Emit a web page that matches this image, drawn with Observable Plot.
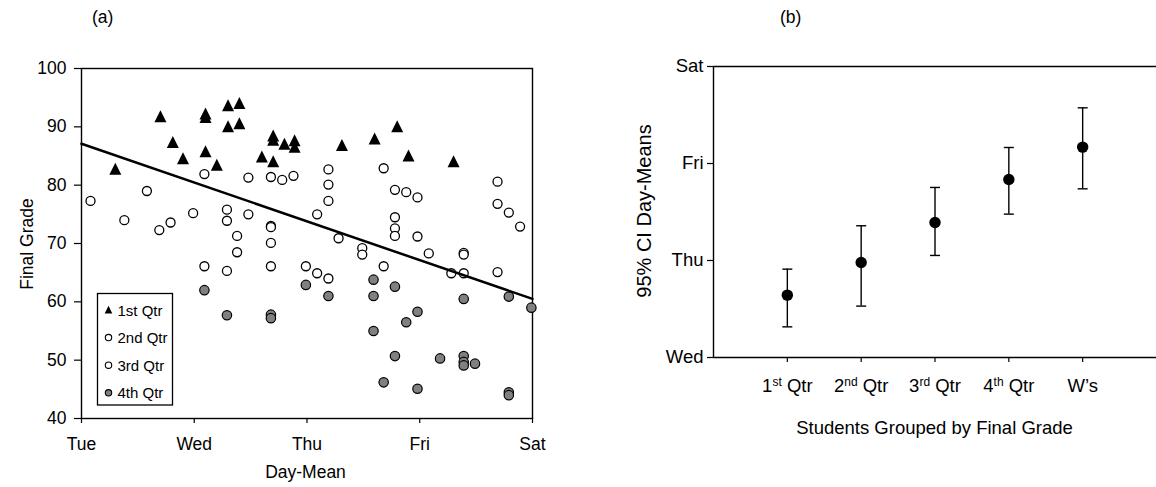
<!DOCTYPE html>
<html><head><meta charset="utf-8">
<script src="https://cdn.jsdelivr.net/npm/d3@7"></script>
<script src="https://cdn.jsdelivr.net/npm/@observablehq/plot@0.6"></script>
<style>
body{margin:0;background:#fff;}
#wrap{position:relative;width:1156px;height:487px;overflow:hidden;font-family:"Liberation Sans",Arial,sans-serif;color:#000;background:#fff;}
#wrap > svg{position:absolute;top:0;}
</style></head><body><div id="wrap"></div>
<script>
// ---------- Panel (a) data: day index (Sun=0 ... Tue=2 ... Sat=6) vs final grade ----------
const dayTicks = [2, 3, 4, 5, 6];
const dayNames = ["Tue", "Wed", "Thu", "Fri", "Sat"];
const gradeTicks = [40, 50, 60, 70, 80, 90, 100];

const q1Day   = [2.30, 2.70, 2.81, 2.90, 3.10, 3.10, 3.10, 3.20, 3.30, 3.30, 3.40, 3.40, 3.60, 3.70, 3.70, 3.70, 3.80, 3.89, 3.89, 4.31, 4.60, 4.80, 4.90, 5.30];
const q1Grade = [82.7, 91.7, 87.3, 84.5, 92.2, 91.6, 85.7, 83.4, 93.6, 90.0, 94.0, 90.5, 84.8, 88.4, 87.7, 84.0, 87.0, 87.6, 86.5, 86.8, 87.9, 90.0, 85.0, 84.0];

const q2Day   = [2.08, 2.38, 2.58, 2.69, 2.79, 2.99, 3.09, 3.29, 3.29, 3.38, 3.48, 3.48, 3.68, 3.68, 3.68, 3.78, 3.88, 4.19, 4.19, 4.19, 4.09, 4.68, 4.78, 4.88, 4.98, 4.78, 4.78, 4.78, 4.98, 5.69, 5.69, 5.79, 5.89];
const q2Grade = [77.3, 74.0, 79.0, 72.3, 73.6, 75.2, 81.9, 75.8, 73.9, 71.3, 81.3, 75.0, 81.4, 73.0, 72.8, 80.9, 81.6, 82.7, 80.1, 77.3, 75.0, 82.9, 79.2, 78.8, 77.9, 74.5, 72.6, 71.3, 71.2, 80.6, 76.8, 75.3, 72.9];

const q3Day   = [3.38, 3.09, 3.29, 3.68, 3.68, 4.28, 3.99, 4.09, 4.19, 4.49, 4.49, 4.68, 5.08, 5.39, 5.39, 5.28, 5.39, 5.69];
const q3Grade = [68.5, 66.1, 65.3, 70.1, 66.1, 70.9, 66.1, 64.9, 64.0, 69.2, 68.1, 66.1, 68.3, 68.4, 68.1, 64.9, 64.9, 65.1];

const q4Day   = [3.09, 3.29, 3.68, 3.68, 3.99, 4.19, 4.59, 4.59, 4.78, 4.59, 4.98, 4.88, 4.78, 4.68, 4.98, 5.18, 5.39, 5.39, 5.39, 5.49, 5.39, 5.79, 5.79, 5.79, 5.99];
const q4Grade = [62.0, 57.7, 57.8, 57.2, 62.9, 61.0, 63.8, 61.0, 62.6, 55.0, 58.3, 56.5, 50.7, 46.2, 45.1, 50.3, 50.7, 49.7, 49.1, 49.4, 60.5, 60.9, 44.5, 44.0, 59.0];

// regression line end points
const fitDay   = [2, 6];
const fitGrade = [87.1, 60.5];

// ---------- Panel (b) data: 95% CI of day-means per group ----------
const groups    = ["1st Qtr", "2nd Qtr", "3rd Qtr", "4th Qtr", "W\u2019s"];
const groupMean = [3.643, 3.979, 4.392, 4.835, 5.169];
const groupLow  = [3.316, 3.530, 4.052, 4.478, 4.739];
const groupHigh = [3.911, 4.358, 4.753, 5.165, 5.574];
const ciTicks   = [3, 4, 5, 6];
const ciNames   = ["Wed", "Thu", "Fri", "Sat"];

const FONT = "'Liberation Sans', Arial, sans-serif";
const rows = (xs, ys) => xs.map((x, i) => ({day: x, grade: ys[i]}));

// triangle marker (slightly taller than equilateral, as in the reference)
const tri = (w, h) => ({draw(ctx) { ctx.moveTo(0, -h * 0.55); ctx.lineTo(w / 2, h * 0.45); ctx.lineTo(-w / 2, h * 0.45); ctx.closePath(); }});

const left = Plot.plot({
  width: 560, height: 487,
  marginLeft: 81, marginRight: 28, marginTop: 68, marginBottom: 69,
  style: {fontFamily: FONT, fontSize: "17.5px", color: "#000", background: "transparent", overflow: "visible"},
  x: {domain: [2, 6]},
  y: {domain: [40, 100]},
  marks: [
    Plot.frame({stroke: "#000", strokeWidth: 1.4}),
    Plot.axisX({ticks: dayTicks, tickFormat: d => dayNames[dayTicks.indexOf(d)], tickSize: 5, tickPadding: 14, label: null, strokeWidth: 1.2}),
    Plot.axisY({ticks: gradeTicks, tickSize: 7, tickPadding: 8, label: null, strokeWidth: 1.2}),
    Plot.dot(rows(q3Day, q3Grade), {x: "day", y: "grade", r: 4.5, fill: "#fff", stroke: "#000", strokeWidth: 1.3}),
    Plot.dot(rows(q2Day, q2Grade), {x: "day", y: "grade", r: 4.5, fill: "#fff", stroke: "#000", strokeWidth: 1.3}),
    Plot.dot(rows(q4Day, q4Grade), {x: "day", y: "grade", r: 4.7, fill: "#808080", stroke: "#000", strokeWidth: 1.2}),
    Plot.dot(rows(q1Day, q1Grade), {x: "day", y: "grade", symbol: tri(12, 12), fill: "#000", stroke: "none"}),
    Plot.line(rows(fitDay, fitGrade), {x: "day", y: "grade", stroke: "#000", strokeWidth: 2.5})
  ]
});

const cap = {draw(ctx) { ctx.moveTo(-5, 0); ctx.lineTo(5, 0); }};
const ci = groups.map((g, i) => ({pos: i + 1, name: g, mean: groupMean[i], low: groupLow[i], high: groupHigh[i]}));

const right = Plot.plot({
  width: 556, height: 487,
  marginLeft: 113, marginRight: 0, marginTop: 66, marginBottom: 130,
  style: {fontFamily: FONT, fontSize: "18.5px", color: "#000", background: "transparent", overflow: "visible"},
  x: {domain: [0, 6]},
  y: {domain: [3, 6]},
  marks: [
    Plot.ruleY([6], {stroke: "#000", strokeWidth: 1.4}),
    Plot.ruleY([3], {stroke: "#000", strokeWidth: 1.4}),
    Plot.ruleX([0], {stroke: "#000", strokeWidth: 1.4}),
    Plot.axisX({ticks: groups.map((g, i) => i + 1), tickFormat: d => groups[d - 1], tickSize: 5, tickPadding: 16, label: null, strokeWidth: 1.2}),
    Plot.axisY({ticks: ciTicks, tickFormat: d => ciNames[ciTicks.indexOf(d)], tickSize: 6, tickPadding: 4, label: null, strokeWidth: 1.2}),
    Plot.ruleX(ci, {x: "pos", y1: "low", y2: "high", stroke: "#000", strokeWidth: 1.4}),
    Plot.dot(ci, {x: "pos", y: "low", symbol: cap, fill: "none", stroke: "#000", strokeWidth: 1.4}),
    Plot.dot(ci, {x: "pos", y: "high", symbol: cap, fill: "none", stroke: "#000", strokeWidth: 1.4}),
    Plot.dot(ci, {x: "pos", y: "mean", r: 5.7, fill: "#000", stroke: "none"})
  ]
});
right.style.left = "600px";

// superscript ordinal suffixes on the group tick labels
d3.select(right).selectAll('g[aria-label="x-axis tick label"] text').each(function () {
  const t = d3.select(this);
  const m = t.text().match(/^(\d)(st|nd|rd|th) (.*)$/);
  if (!m) return;
  t.text(null);
  t.append("tspan").text(m[1]);
  t.append("tspan").attr("font-size", "12px").attr("dy", "-6").text(m[2]);
  t.append("tspan").attr("dy", "6").text("\u00a0" + m[3]);
});

const wrap = document.getElementById("wrap");
wrap.appendChild(left);
left.style.left = "0px";
wrap.appendChild(right);

// overlay: panel letters, axis titles, legend
const ov = d3.create("svg").attr("width", 1156).attr("height", 487)
  .style("left", "0px").style("font-family", FONT).style("pointer-events", "none");
ov.append("text").attr("x", 92).attr("y", 23).attr("font-size", 17.5).text("(a)");
ov.append("text").attr("x", 780).attr("y", 23).attr("font-size", 17.5).text("(b)");
ov.append("text").attr("transform", "translate(33,244) rotate(-90)").attr("text-anchor", "middle").attr("font-size", 17.5).text("Final Grade");
ov.append("text").attr("x", 305.5).attr("y", 478).attr("text-anchor", "middle").attr("font-size", 17.5).text("Day-Mean");
ov.append("text").attr("transform", "translate(651,211) rotate(-90)").attr("text-anchor", "middle").attr("font-size", 20).text("95% CI Day-Means");
ov.append("text").attr("x", 934.5).attr("y", 434).attr("text-anchor", "middle").attr("font-size", 18.5).text("Students Grouped by Final Grade");

const legendNames = ["1st Qtr", "2nd Qtr", "3rd Qtr", "4th Qtr"];
const lg = ov.append("g");
lg.append("rect").attr("x", 97.5).attr("y", 293.5).attr("width", 75).attr("height", 111.5)
  .attr("fill", "#fff").attr("stroke", "#000").attr("stroke-width", 1.3);
legendNames.forEach((name, i) => {
  const cy = 310 + i * 27.6;
  if (i === 0) {
    lg.append("path").attr("transform", `translate(108.5,${cy})`).attr("d", "M0,-4.2L3.8,3.4L-3.8,3.4Z").attr("fill", "#000");
  } else {
    lg.append("circle").attr("cx", 108.5).attr("cy", cy).attr("r", 3.2)
      .attr("fill", i === 3 ? "#808080" : "#fff").attr("stroke", "#000").attr("stroke-width", 1.1);
  }
  lg.append("text").attr("x", 117.5).attr("y", cy + 5.5).attr("font-size", 15).text(name);
});
wrap.appendChild(ov.node());
</script>
</body></html>
